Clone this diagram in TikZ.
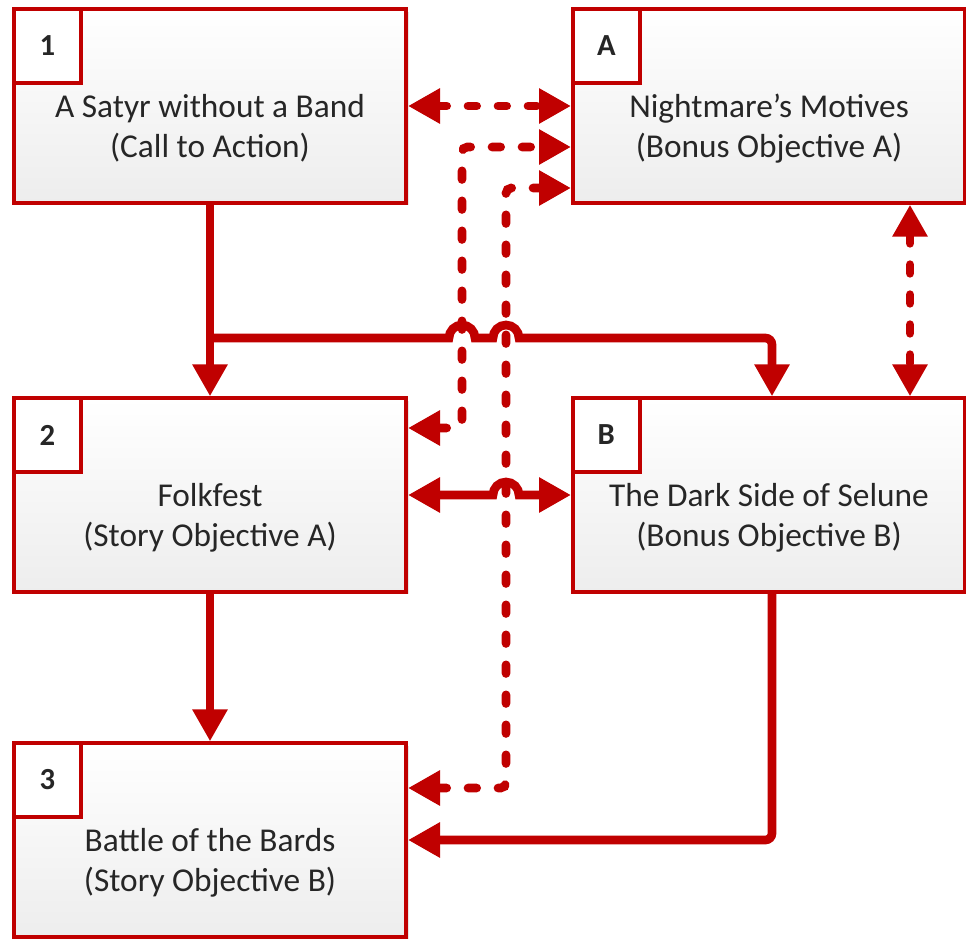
\documentclass[tikz,border=0pt]{standalone}
\usepackage{fontspec}
\setmainfont{Carlito}
\usetikzlibrary{arrows.meta,shadows}
\definecolor{quest}{RGB}{192,0,0}
\definecolor{ink}{RGB}{38,38,38}

\begin{document}
\begin{tikzpicture}[
    x=0.75pt, y=0.75pt,
    box/.style={draw=quest, line width=3pt, rectangle, minimum width=294pt, minimum height=145pt, top color=white, bottom color=black!7, drop shadow={shadow xshift=2pt, shadow yshift=-2pt, opacity=0.2}},
    numbox/.style={draw=quest, line width=3pt, fill=white, minimum width=50pt, minimum height=55pt, anchor=north west, font=\bfseries\fontsize{23}{27}\selectfont, text=ink},
    title/.style={align=center, font=\fontsize{25}{30}\selectfont, text=ink},
    flow/.style={draw=quest, line width=6.5pt, -{Triangle[length=24pt,width=25pt]}},
    both/.style={flow, {Triangle[length=24pt,width=25pt]}-{Triangle[length=24pt,width=25pt]}},
    opt/.style={dash pattern=on 6.5pt off 16pt, line cap=round}
]
\useasboundingbox (0,0) rectangle (966,-938);

% Nodes
\node[box] (sat) at (210,-106) {};
\node[box] (night) at (769,-106) {};
\node[box] (fest) at (210,-495) {};
\node[box] (selune) at (769,-495) {};
\node[box] (bards) at (210,-840) {};

\node[numbox] (sat-n) at (sat.north west) {1};
\node[numbox] (night-n) at (night.north west) {A};
\node[numbox] (fest-n) at (fest.north west) {2};
\node[numbox] (selune-n) at (selune.north west) {B};
\node[numbox] (bards-n) at (bards.north west) {3};

\node[title] (sat-t) at ([yshift=-17pt]sat.center) {A Satyr without a Band\\(Call to Action)};
\node[title] (night-t) at ([yshift=-17pt]night.center) {Nightmare’s Motives\\(Bonus Objective A)};
\node[title] (fest-t) at ([yshift=-17pt]fest.center) {Folkfest\\(Story Objective A)};
\node[title] (selune-t) at ([yshift=-17pt]selune.center) {The Dark Side of Selune\\(Bonus Objective B)};
\node[title] (bards-t) at ([yshift=-17pt]bards.center) {Battle of the Bards\\(Story Objective B)};

% Bends
\coordinate (split) at (210,-338);
\coordinate (joinB) at (772,-338);
\coordinate (bendA1) at (462,-147);
\coordinate (bendA2) at (462,-428);
\coordinate (bendC1) at (506,-188);
\coordinate (bendC2) at (506,-788);
\coordinate (bendD) at (772,-840);
\coordinate (colAB) at (910,0);

% Arrows
\draw[flow] (sat) -- (fest);
\draw[flow] (split) -- (449,-338) arc[start angle=180, end angle=0, radius=13] -- (493,-338) arc[start angle=180, end angle=0, radius=13] [rounded corners=5pt] -- (joinB) -- (selune.north -| joinB);
\draw[flow] (fest) -- (bards);
\draw[flow, rounded corners=5pt] (selune.south -| bendD) -- (bendD) -- (bards.east |- bendD);
\draw[both] (fest.east) -- (fest.east -| 493,0) arc[start angle=180, end angle=0, radius=13] -- (selune.west);
\draw[both, opt] (sat.east) -- (night.west);
\draw[both, opt, rounded corners=4pt] (fest.east |- bendA2) -- (bendA2) -- (bendA1) -- (night.west |- bendA1);
\draw[both, opt, rounded corners=4pt] (bards.east |- bendC2) -- (bendC2) -- (bendC1) -- (night.west |- bendC1);
\draw[both, opt] (night.south -| colAB) -- (selune.north -| colAB);
\end{tikzpicture}
\end{document}
